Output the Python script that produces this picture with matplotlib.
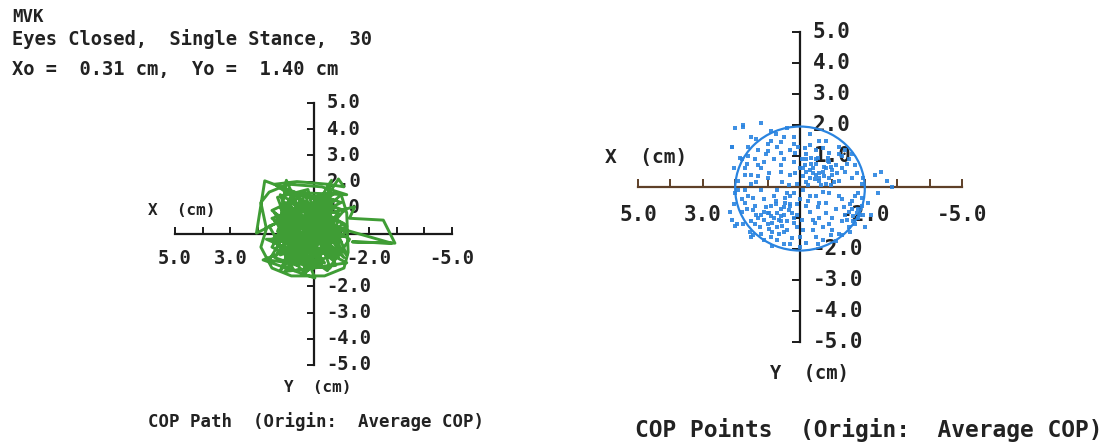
import matplotlib
matplotlib.use("Agg")
import matplotlib.pyplot as plt
from matplotlib.patches import Circle
from matplotlib.transforms import offset_copy

plt.rcParams['font.family'] = ['DejaVu Sans Mono']
plt.rcParams['font.weight'] = 'bold'

W, H = 1120, 445

# --- data (cm, origin = average COP) ---
tick_vals = [-5, -4, -3, -2, -1, 1, 2, 3, 4, 5]
x_labels = [5, 3, -2, -5]
y_labels = [5, 4, 3, 2, 1, -2, -3, -4, -5]

# COP path (left panel)
path_x = [0.2, 0.8, -0.3, 1.1, 0.5, -0.6, 0.9, 1.3, -0.2, -0.9, 0.4, 1.2, 0.1, -0.7, 0.6,
          1.4, 0.3, -1.0, -0.4, 0.7, 1.0, -0.1, -1.2, 0.2, 1.3, 0.8, -0.5, -0.9, 0.5, 1.1,
          -0.3, -1.1, 1.76, 2.06, 1.2, 0.98, 0.3, -0.65, -0.4, 0.9, 1.82, -0.05, 0.4, 1.04, -0.8,
          -0.2, -1.49, -1.3, -2.52, -2.94, -1.4, -2.82, -1.0, 0.6, 1.5, 0.0, -0.6, 0.8, 1.3, 0.2,
          -0.3, -1.2, 0.7, 1.6, 0.9, -0.8, -0.1, 0.5, 1.0, -0.5, -1.3, 0.3, 1.2, 0.1, -0.7,
          0.6, 1.4, 0.4, -0.2, -1.0, 0.8, 1.1, 0.0, -0.9, 0.5, 1.5, 0.2, -0.4, 0.9, 1.2,
          -0.6, -1.2, 0.1, 0.7, 1.0, -0.3, -0.8, 0.3, 1.3, 0.6, -0.1, -1.1, 0.4, 1.1, 0.2,
          -0.5, 0.8, 1.4, 0.0, -0.7, 0.5, 1.0, -0.2, -1.0, 0.9, 0.3, -0.6, 1.2, 0.1, -0.9,
          0.6, 1.5, 0.2,
          -0.9, -1.1, -0.5, 0.6, 1.4, 1.0, -1.2, -0.3, 0.9, 1.6,
          1.9, 1.7, 1.9, 1.5, 0.8, -0.4, -1.1, -1.25, -1.2, -1.0,
          0.4, -0.5, 0.2, 1.0, -0.8, 0.6, 1.3, -0.2, 0.9, 0.0,
          -1.15, 1.1, 0.3, -0.6, 1.6, 0.7, -0.4, 0.2, 1.2, -0.9,
          0.5, -0.3, 1.4, 0.0, -1.1, 0.8, 0.4, -0.7, 1.5, -0.1,
          0.9, -0.5, 1.2, 0.1, -1.2, 0.6, 1.7, -0.2, 0.3, -0.8]
path_y = [0.1, -0.5, 0.6, 0.4, -1.1, -0.3, 0.9, -0.2, -0.9, 0.5, 1.3, -0.8, -0.4, 1.0, 0.2,
          0.8, -1.3, -0.6, 0.9, -0.2, 1.2, 0.3, 0.1, -1.0, 0.1, 1.5, 1.4, -0.9, 0.7, -1.2,
          -0.1, 0.9, 2.03, 0.03, 0.5, 2.05, 0.4, 2.05, 1.1, -0.6, -0.99, -1.68, -0.5, -1.43, -1.2,
          0.7, 1.04, 0.6, 0.53, -0.35, -0.3, -0.35, 0.2, 1.1, -0.5, -1.3, 0.0, 0.0, 1.4, 1.7,
          -0.6, -1.1, -1.4, 0.3, 0.6, 1.6, 1.0, -0.8, -0.3, -1.4, -0.2, 0.9, 1.0, -0.7, 0.4,
          -1.2, -0.9, 0.5, 1.5, 1.2, 0.3, -0.6, 0.0, -0.4, 1.4, 0.9, -0.2, -1.1, -1.0, 0.2,
          0.7, -0.8, 0.6, 1.6, 0.4, 0.2, -0.1, -1.5, -0.4, 0.8, -0.3, 0.4, 1.2, 1.1, -0.9,
          -0.7, -0.3, 0.5, 1.2, -1.0, 0.0, -1.1, 0.5, -0.3, 1.3, -0.6, 1.2, -0.1, 0.9, 0.8,
          -0.9, -0.2, 0.3,
          2.1, 1.8, 1.9, 2.0, 1.9, 1.6, 1.5, 1.8, 1.9, 1.6,
          1.2, 0.2, -0.5, -1.3, -1.6, -1.6, -1.3, -0.7, 0.8, 1.5,
          0.2, 0.1, -0.6, 0.7, -0.7, -0.4, -0.7, 1.3, -1.3, 0.4,
          -0.1, 0.0, 1.5, -1.3, -1.0, 0.6, 0.3, -1.4, 1.5, 0.2,
          -0.2, -1.2, -0.1, 0.8, -0.9, 1.0, -1.0, 1.3, 0.6, -0.8,
          0.2, 0.6, -1.4, 1.1, 0.3, -0.7, -0.2, -0.2, 0.7, 1.0]

# COP points (right panel)
pts_x = [1.75, 1.19, 2.0, 1.5, 2.1, 0.9, 0.4, -0.3, -0.8, -1.2,
         1.3, 0.7, 0.2, -0.5, -1.5, 1.8, 1.1, 0.5, -0.2, -0.9,
         -0.4, -0.7, -1.0, -0.3, -0.6, -1.1, -0.8, -0.2, 0.3, 0.6,
         1.0, 1.5, 1.9, 2.05, -1.6, -1.9, -2.3, -2.5, -2.7, -2.85,
         0.1, -0.1, 0.4, 0.8, 1.2, 1.6, 2.0, -0.5, -0.9, -1.3,
         -1.7, -2.1, 0.3, 0.6, 0.9, 1.1, 0.5, 0.8, 1.3, 0.2,
         1.0, 0.7, 1.5, 1.8, 0.4, 1.2, 0.9, 0.1, -0.3, -0.6,
         -0.4, -0.9, -1.4, -1.6, -1.8, -1.5, -1.2, -0.7, -0.2, 0.5,
         2.15, 2.1, 1.94, 1.45, -2.2, -2.0, 0.0, 0.2, -0.5, -1.3,
         0.9, 1.6, 1.76, 2.1, -0.9, -0.6, -1.1, 0.7, 1.4, 0.5,
         0.0, -0.2, 0.6, 1.1, 1.4, 1.7, -0.8, -0.5, -1.2, -1.4,
         0.95, 0.35, 1.25, 0.65, 1.45, -1.65, -1.75, -1.3, -0.35, -0.75,
         0.15, -0.15, 1.05, 1.7, 2.05, 0.85, -0.95, -1.9, -2.4, 2.0,
         0.45, 0.75, -0.05, -0.85, -1.05, 0.55, 1.35, -0.45, 0.25, 1.55,
         0.3, 0.5, 0.7, 0.9, 1.1, 0.4, 0.6, 0.85, 1.05, 0.25, 0.55, 0.75, 1.2, 0.45, 0.95,
         -0.1, -0.3, -0.45, -0.6, -0.75, -0.9, -1.0, -0.2, -0.5, -0.85, -0.15, -0.65, -1.15, -0.4, -0.95,
         -1.35, -1.5, -1.65, -1.8, -1.45, -1.7, -1.55, -1.85,
         1.2, 1.5, 0.8, 0.3, -0.6, 1.0, 1.7, 0.2, -0.3, -0.8,
         -1.0, -0.5, 0.0, 0.3, 1.4, 1.8, -1.4, -1.7, -1.8, 0.6,
         -0.2, 1.3, 0.1, -0.7, 1.65,
         1.6, 1.3, 1.7, 1.0, 0.6, 1.45, 1.65, 1.9, 0.3, 0.1,
         -0.1, -0.4, -0.7, -1.0, -1.3, -1.6, -1.9, -1.75, -1.45, -1.2,
         -0.7, -0.3, 0.2, 0.6, 0.95, 0.15, -0.05, -0.55, -0.25, 0.35,
         0.7, 1.1, 0.0, -0.55, -1.1, 1.5, 1.75, -1.55, -1.95, -1.95,
         0.5, 0.85, 1.0, 0.2, 0.65, 1.35, -0.25, -0.55, -0.8, -1.2,
         -0.35, -0.95, -1.3, -0.6, -0.1, 0.05, 0.75, 1.35, 1.85, -1.6]
pts_y = [1.95, 2.05, 1.9, 1.6, 1.3, 1.8, 1.9, 1.7, 1.5, 1.3,
         1.2, 1.3, 1.4, 1.2, 0.9, 0.9, 0.8, 0.9, 0.9, 0.8,
         0.6, 0.5, 0.4, 0.3, 0.2, 0.7, 0.1, 0.5, 0.4, 0.5,
         0.3, 0.4, 0.2, 0.6, 0.3, 0.1, 0.4, 0.5, 0.2, 0.01,
         0.1, -0.1, -0.2, -0.3, -0.1, -0.3, -0.2, -0.3, -0.2, -0.4,
         -0.3, -0.5, -0.6, -0.7, -0.6, -0.8, -0.9, -1.0, -1.0, -1.0,
         -1.2, -1.3, -1.1, -0.8, -1.4, -1.5, -1.6, -1.3, -0.8, -1.0,
         -1.4, -1.2, -0.9, -0.7, -1.0, -1.3, -1.5, -1.7, -1.8, -1.85,
         -0.8, -1.06, -1.2, -1.55, -0.9, -1.3, 0.6, 0.8, 0.9, 1.0,
         1.5, 1.3, 2.0, 1.3, 1.1, -0.5, -0.7, -0.1, 0.9, 1.6,
         -0.4, -0.6, -1.1, -0.4, -0.6, -0.5, 0.6, 0.4, 0.2, 0.5,
         -0.85, -0.75, -1.3, -1.5, -0.75, -1.1, -0.85, -1.1, 0.75, 0.35,
         1.1, 1.25, 1.05, 0.6, -0.55, -1.9, -1.55, -0.6, -0.2, -1.25,
         -0.35, -0.55, -1.05, 0.95, 0.15, 0.15, 0.15, -1.15, -1.65, -1.45,
         -0.55, -0.65, -0.85, -0.95, -1.05, -1.1, -0.95, -1.15, -0.65, -0.85, -1.25, -0.45, -0.9, -0.5, -1.35,
         0.35, 0.55, 0.25, 0.45, 0.65, 0.3, 0.55, 0.15, 0.75, 0.85, 0.7, 0.05, 0.45, 0.45, 0.05,
         -0.65, -0.8, -0.95, -0.7, -1.05, -1.2, -0.55, -0.9,
         0.6, 0.1, 0.9, 1.2, 1.5, 1.4, -0.1, -0.2, -0.3, -0.5,
         -1.0, -1.6, -1.6, -1.85, -1.2, -0.4, 1.2, 0.7, -0.2, 1.1,
         1.05, 0.35, -0.55, -0.15, 0.75,
         1.0, 0.7, 0.4, 1.15, 0.7, -0.35, -0.7, -0.1, -0.3, -0.9,
         -1.4, -1.05, -1.3, -1.4, -1.55, -0.45, -0.35, 0.45, 0.75, 1.05,
         1.25, 1.35, 1.6, 1.45, 0.45, 0.45, 0.9, 0.95, 0.05, 0.05,
         -1.7, -1.7, -1.95, -1.85, -1.75, -1.6, -1.2, -1.45, -0.9, 0.3,
         -1.45, -1.45, -0.85, -1.15, -1.05, -0.9, -0.45, -0.65, -0.85, -0.3,
         0.95, 0.65, 0.6, 0.3, 0.6, 1.3, 1.7, 1.55, 0.95, 1.05]
circle_r = 2.0

GREEN = "#3f9d35"
BLUE = "#2a84e0"


def px(x, y):
    return x / W, 1 - y / H


def setup_axes(rect, hcolor, tick_len, lab_dx, lab_dy, fs):
    ax = fig.add_axes(rect)
    ax.set_xlim(5, -5)
    ax.set_ylim(-5, 5)
    ax.patch.set_alpha(0)
    for s in ['top', 'right']:
        ax.spines[s].set_visible(False)
    ax.spines['left'].set_position(('data', 0))
    ax.spines['bottom'].set_position(('data', 0))
    ax.spines['left'].set_color("#1a1a1a")
    ax.spines['bottom'].set_color(hcolor)
    ax.spines['left'].set_linewidth(1.6)
    ax.spines['bottom'].set_linewidth(1.6)
    ax.set_xticks(tick_vals)
    ax.set_yticks(tick_vals)
    ax.tick_params(axis='x', direction='in', length=tick_len, width=1.4,
                   color=hcolor, labelbottom=False)
    ax.tick_params(axis='y', direction='out', length=tick_len, width=1.4,
                   color="#1a1a1a", labelleft=False)
    ytr = offset_copy(ax.transData, fig=fig, x=lab_dx, y=0, units='dots')
    for v in y_labels:
        ax.text(0, v, f"{v:.1f}", transform=ytr, ha='left', va='center',
                fontsize=fs, color="#222222", zorder=1, clip_on=False)
    xtr = offset_copy(ax.transData, fig=fig, x=0, y=-lab_dy, units='dots')
    for v in x_labels:
        ax.text(v, 0, f"{v:.1f}", transform=xtr, ha='center', va='center',
                fontsize=fs, color="#222222", zorder=1, clip_on=False)
    return ax


fig = plt.figure(figsize=(W / 100, H / 100), dpi=100)
fig.patch.set_facecolor("white")

# left panel: COP path
axL = setup_axes([175 / W, (H - 365) / H, 277 / W, 262 / H], "#1a1a1a", 5, 13, 24, 13.5)
axL.plot(path_x, path_y, color=GREEN, lw=2.1, zorder=4)

# right panel: COP points
axR = setup_axes([638 / W, (H - 342) / H, 324 / W, 310 / H], "#5e4028", 6, 13, 28, 15)
axR.plot(pts_x, pts_y, 's', color=BLUE, ms=2.8, mew=0, alpha=0.9, zorder=4)
axR.add_patch(Circle((0, -0.05), circle_r, fill=False, ec=BLUE, lw=1.6, zorder=4))

# header
tc = "#222222"
fig.text(*px(12, 17), "MVK", fontsize=12.5, color=tc, va='center', ha='left')
fig.text(*px(12, 39), "Eyes Closed,  Single Stance,  30", fontsize=13.5, color=tc, va='center', ha='left')
fig.text(*px(12, 70), "Xo =  0.31 cm,  Yo =  1.40 cm", fontsize=13.5, color=tc, va='center', ha='left')

# axis names
fig.text(*px(148, 210), "X  (cm)", fontsize=11.5, color=tc, va='center', ha='left')
fig.text(*px(318, 388), "Y  (cm)", fontsize=11.5, color=tc, va='center', ha='center')
fig.text(*px(605, 158), "X  (cm)", fontsize=14, color=tc, va='center', ha='left')
fig.text(*px(809, 373), "Y  (cm)", fontsize=13.5, color=tc, va='center', ha='center')

# captions
fig.text(*px(148, 422), "COP Path  (Origin:  Average COP)", fontsize=12.5, color=tc, va='center', ha='left')
fig.text(*px(635, 430), "COP Points  (Origin:  Average COP)", fontsize=16.5, color=tc, va='center', ha='left')

fig.savefig("out.png", dpi=100)
